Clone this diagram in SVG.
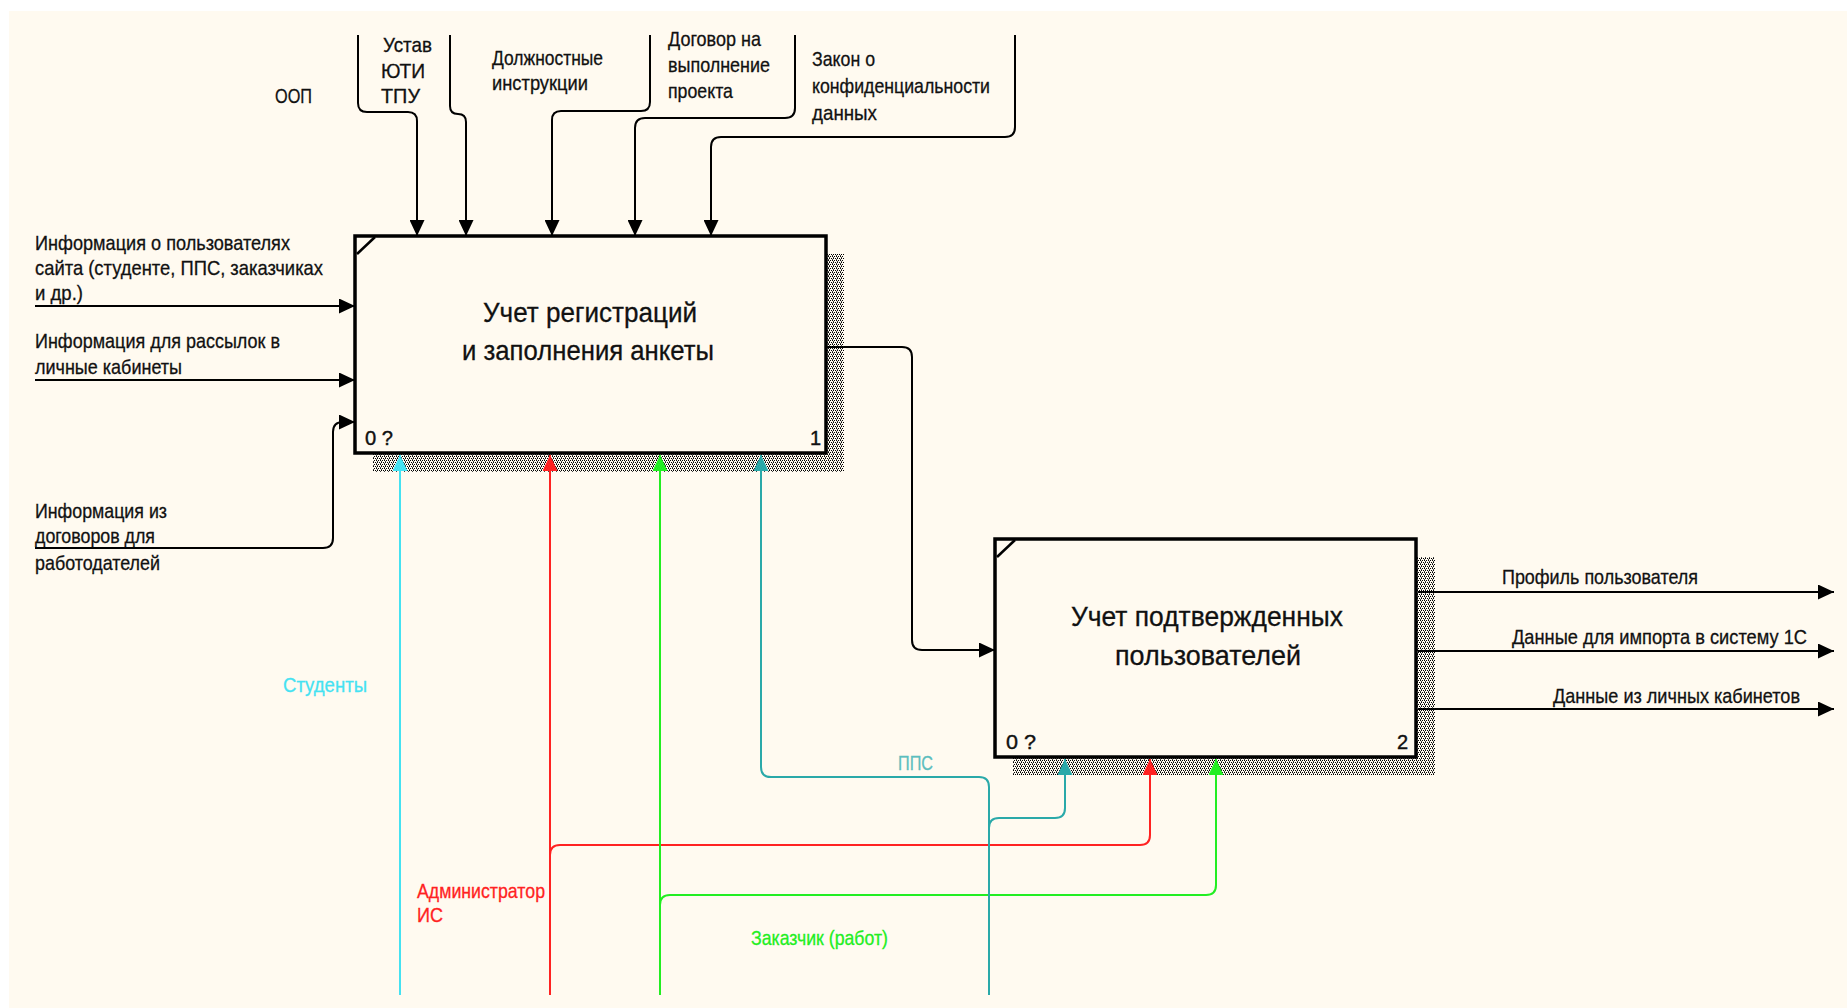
<svg xmlns="http://www.w3.org/2000/svg" width="1847" height="1008" viewBox="0 0 1847 1008">
  <style>
    .lbl { font-family: "Liberation Sans", Arial, sans-serif; font-size: 21px; fill: #111; stroke: #111; stroke-width: 0.3; }
    .ttl { font-family: "Liberation Sans", Arial, sans-serif; font-size: 28px; fill: #111; stroke: #111; stroke-width: 0.3; }
    .num { font-family: "Liberation Sans", Arial, sans-serif; font-size: 20px; fill: #111; stroke: #111; stroke-width: 0.4; }
    .box { fill: #fffaf0; stroke: #000; stroke-width: 3.5; }
    .ln { fill: none; stroke: #000; stroke-width: 2; }
    .cy { fill: none; stroke: #45e2f2; stroke-width: 2; }
    .rd { fill: none; stroke: #ff2222; stroke-width: 2; }
    .gr { fill: none; stroke: #22ee22; stroke-width: 2; }
    .tl { fill: none; stroke: #2aa9a9; stroke-width: 2; }
  </style>
  <defs>
    <!-- dithered shadow behind activity boxes -->
    <pattern id="hatch" width="4" height="4" patternUnits="userSpaceOnUse">
      <rect width="4" height="4" fill="#fffaf0"/>
      <rect x="0" y="0" width="1" height="1" fill="#000"/>
      <rect x="2" y="0" width="1" height="1" fill="#000"/>
      <rect x="1" y="1" width="1" height="1" fill="#444"/>
      <rect x="3" y="2" width="1" height="1" fill="#000"/>
      <rect x="1" y="2" width="1" height="1" fill="#000"/>
      <rect x="0" y="3" width="1" height="1" fill="#444"/>
    </pattern>
    <marker id="ah" markerWidth="17" markerHeight="15" refX="16" refY="7.5" orient="auto" markerUnits="userSpaceOnUse">
      <path d="M0,0 L16,7.5 L0,15 z" fill="#000"/>
    </marker>
    <marker id="ah-cy" markerWidth="17" markerHeight="15" refX="16" refY="7.5" orient="auto" markerUnits="userSpaceOnUse">
      <path d="M0,0 L16,7.5 L0,15 z" fill="#45e2f2"/>
    </marker>
    <marker id="ah-rd" markerWidth="17" markerHeight="15" refX="16" refY="7.5" orient="auto" markerUnits="userSpaceOnUse">
      <path d="M0,0 L16,7.5 L0,15 z" fill="#ff2222"/>
    </marker>
    <marker id="ah-gr" markerWidth="17" markerHeight="15" refX="16" refY="7.5" orient="auto" markerUnits="userSpaceOnUse">
      <path d="M0,0 L16,7.5 L0,15 z" fill="#22ee22"/>
    </marker>
    <marker id="ah-tl" markerWidth="17" markerHeight="15" refX="16" refY="7.5" orient="auto" markerUnits="userSpaceOnUse">
      <path d="M0,0 L16,7.5 L0,15 z" fill="#2aa9a9"/>
    </marker>
  </defs>

  <rect width="1847" height="1008" fill="#ffffff"/>
  <rect x="9" y="11" width="1838" height="997" fill="#fffaf0"/>

  <!-- activity 1 -->
  <g id="node-a1">
    <rect x="373" y="254" width="471" height="218" fill="url(#hatch)"/>
    <rect class="box" x="355" y="236" width="471" height="217"/>
    <line x1="357" y1="254" x2="375" y2="237" stroke="#000" stroke-width="2.5"/>
    <text class="ttl" x="590" y="322" text-anchor="middle" textLength="214" lengthAdjust="spacingAndGlyphs">Учет регистраций</text>
    <text class="ttl" x="588" y="360" text-anchor="middle" textLength="252" lengthAdjust="spacingAndGlyphs">и заполнения анкеты</text>
    <text class="num" x="365" y="445" textLength="28" lengthAdjust="spacingAndGlyphs">0 ?</text>
    <text class="num" x="810" y="445">1</text>
  </g>

  <!-- activity 2 -->
  <g id="node-a2">
    <rect x="1013" y="557" width="422" height="218" fill="url(#hatch)"/>
    <rect class="box" x="995" y="539" width="421" height="218"/>
    <line x1="997" y1="557" x2="1015" y2="540" stroke="#000" stroke-width="2.5"/>
    <text class="ttl" x="1207" y="626" text-anchor="middle" textLength="272" lengthAdjust="spacingAndGlyphs">Учет подтвержденных</text>
    <text class="ttl" x="1208" y="665" text-anchor="middle" textLength="186" lengthAdjust="spacingAndGlyphs">пользователей</text>
    <text class="num" x="1006" y="749" textLength="30" lengthAdjust="spacingAndGlyphs">0 ?</text>
    <text class="num" x="1397" y="749">2</text>
  </g>

  <!-- connectors -->
  <g id="connectors">
    <!-- controls -->
    <path class="ln" marker-end="url(#ah)" d="M358,35 V103 Q358,112 367,112 H408 Q417,112 417,121 V236"/>
    <path class="ln" marker-end="url(#ah)" d="M450,35 V106 Q450,114 458,114 Q466,114 466,122 V236"/>
    <path class="ln" marker-end="url(#ah)" d="M650,35 V102 Q650,111 641,111 H561 Q552,111 552,120 V236"/>
    <path class="ln" marker-end="url(#ah)" d="M795,35 V108 Q795,118 785,118 H645 Q635,118 635,128 V236"/>
    <path class="ln" marker-end="url(#ah)" d="M1015,35 V127 Q1015,137 1005,137 H721 Q711,137 711,147 V236"/>
    <!-- inputs -->
    <path class="ln" marker-end="url(#ah)" d="M35,306 H355"/>
    <path class="ln" marker-end="url(#ah)" d="M35,380 H355"/>
    <path class="ln" marker-end="url(#ah)" d="M35,548 H323 Q333,548 333,538 V432 Q333,422 343,422 H355"/>
    <!-- activity 1 to activity 2 -->
    <path class="ln" marker-end="url(#ah)" d="M826,347 H902 Q912,347 912,357 V640 Q912,650 922,650 H995"/>
    <!-- outputs -->
    <path class="ln" marker-end="url(#ah)" d="M1418,592 H1834"/>
    <path class="ln" marker-end="url(#ah)" d="M1418,651 H1834"/>
    <path class="ln" marker-end="url(#ah)" d="M1418,709 H1834"/>
    <!-- mechanisms -->
    <path class="cy" marker-end="url(#ah-cy)" d="M400,995 V455"/>
    <path class="rd" marker-end="url(#ah-rd)" d="M550,995 V455"/>
    <path class="rd" marker-end="url(#ah-rd)" d="M550,855 Q550,845 560,845 H1140 Q1150,845 1150,835 V759"/>
    <path class="gr" marker-end="url(#ah-gr)" d="M660,995 V455"/>
    <path class="gr" marker-end="url(#ah-gr)" d="M660,905 Q660,895 670,895 H1206 Q1216,895 1216,885 V759"/>
    <path class="tl" marker-end="url(#ah-tl)" d="M989,995 V787 Q989,777 979,777 H771 Q761,777 761,767 V455"/>
    <path class="tl" marker-end="url(#ah-tl)" d="M989,828 Q989,818 999,818 H1055 Q1065,818 1065,808 V759"/>
  </g>

  <!-- connector labels -->
  <g id="labels">
    <text class="lbl" x="275" y="103" textLength="37" lengthAdjust="spacingAndGlyphs">ООП</text>
    <text class="lbl" x="383" y="52" textLength="49" lengthAdjust="spacingAndGlyphs">Устав</text>
    <text class="lbl" x="381" y="78" textLength="44" lengthAdjust="spacingAndGlyphs">ЮТИ</text>
    <text class="lbl" x="381" y="103" textLength="39" lengthAdjust="spacingAndGlyphs">ТПУ</text>
    <text class="lbl" x="492" y="65" textLength="111" lengthAdjust="spacingAndGlyphs">Должностные</text>
    <text class="lbl" x="492" y="90" textLength="96" lengthAdjust="spacingAndGlyphs">инструкции</text>
    <text class="lbl" x="668" y="46" textLength="93" lengthAdjust="spacingAndGlyphs">Договор на</text>
    <text class="lbl" x="668" y="72" textLength="102" lengthAdjust="spacingAndGlyphs">выполнение</text>
    <text class="lbl" x="668" y="98" textLength="65" lengthAdjust="spacingAndGlyphs">проекта</text>
    <text class="lbl" x="812" y="66" textLength="63" lengthAdjust="spacingAndGlyphs">Закон о</text>
    <text class="lbl" x="812" y="93" textLength="178" lengthAdjust="spacingAndGlyphs">конфиденциальности</text>
    <text class="lbl" x="812" y="120" textLength="65" lengthAdjust="spacingAndGlyphs">данных</text>

    <text class="lbl" x="35" y="250" textLength="255" lengthAdjust="spacingAndGlyphs">Информация о пользователях</text>
    <text class="lbl" x="35" y="275" textLength="288" lengthAdjust="spacingAndGlyphs">сайта (студенте, ППС, заказчиках</text>
    <text class="lbl" x="35" y="300" textLength="48" lengthAdjust="spacingAndGlyphs">и др.)</text>
    <text class="lbl" x="35" y="348" textLength="245" lengthAdjust="spacingAndGlyphs">Информация для рассылок в</text>
    <text class="lbl" x="35" y="374" textLength="147" lengthAdjust="spacingAndGlyphs">личные кабинеты</text>
    <text class="lbl" x="35" y="518" textLength="132" lengthAdjust="spacingAndGlyphs">Информация из</text>
    <text class="lbl" x="35" y="543" textLength="120" lengthAdjust="spacingAndGlyphs">договоров для</text>
    <text class="lbl" x="35" y="570" textLength="125" lengthAdjust="spacingAndGlyphs">работодателей</text>

    <text class="lbl" x="1502" y="584" textLength="196" lengthAdjust="spacingAndGlyphs">Профиль пользователя</text>
    <text class="lbl" x="1512" y="644" textLength="295" lengthAdjust="spacingAndGlyphs">Данные для импорта в систему 1С</text>
    <text class="lbl" x="1553" y="703" textLength="247" lengthAdjust="spacingAndGlyphs">Данные из личных кабинетов</text>

    <text class="lbl" x="283" y="692" textLength="84" lengthAdjust="spacingAndGlyphs" style="fill:#45e2f2;stroke:#45e2f2">Студенты</text>
    <text class="lbl" x="417" y="898" textLength="128" lengthAdjust="spacingAndGlyphs" style="fill:#ff2222;stroke:#ff2222">Администратор</text>
    <text class="lbl" x="417" y="922" textLength="26" lengthAdjust="spacingAndGlyphs" style="fill:#ff2222;stroke:#ff2222">ИС</text>
    <text class="lbl" x="751" y="945" textLength="137" lengthAdjust="spacingAndGlyphs" style="fill:#22ee22;stroke:#22ee22">Заказчик (работ)</text>
    <text class="lbl" x="898" y="770" textLength="35" lengthAdjust="spacingAndGlyphs" style="fill:#5cbebe;stroke:#5cbebe">ППС</text>
  </g>
</svg>
